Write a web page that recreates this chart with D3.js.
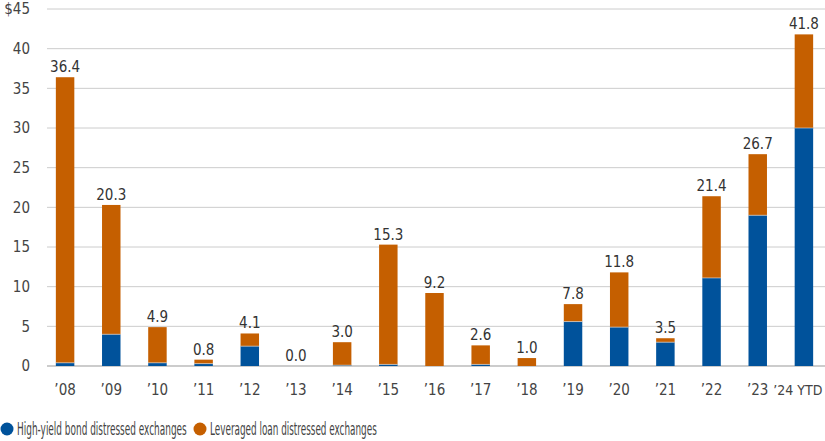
<!DOCTYPE html>
<html>
<head>
<meta charset="utf-8">
<script src="https://cdn.jsdelivr.net/npm/d3@7"></script>
<style>
  body { margin: 0; background: #fff; }
  svg { display: block; font-family: "DejaVu Sans", sans-serif; font-stretch: condensed; }
</style>
</head>
<body>
<svg id="chart" width="825" height="441"></svg>
<script>
// values in $bn
const years = ["\u201908", "\u201909", "\u201910", "\u201911", "\u201912", "\u201913", "\u201914", "\u201915",
    "\u201916", "\u201917", "\u201918", "\u201919", "\u201920", "\u201921", "\u201922", "\u201923", "\u201924 YTD"];
const bondValues = [0.4, 4.0, 0.4, 0.3, 2.5, 0, 0.1, 0.2, 0, 0.2, 0, 5.6, 4.9, 3.0, 11.1, 19.0, 30.0];
const totals = [36.4, 20.3, 4.9, 0.8, 4.1, 0.0, 3.0, 15.3, 9.2, 2.6, 1.0, 7.8, 11.8, 3.5, 21.4, 26.7, 41.8];
const yTicks = [0, 5, 10, 15, 20, 25, 30, 35, 40, 45];
const seriesNames = ["High-yield bond distressed exchanges", "Leveraged loan distressed exchanges"];

const colors = ["#00529b", "#c55f00"];

const svg = d3.select("#chart");

const x = d3.scaleBand()
    .domain(years)
    .range([42, 827])
    .paddingInner(0.6)
    .paddingOuter(0.3);

const y = d3.scaleLinear().domain([0, 45]).range([366, 9]);

// gridlines
svg.append("g")
    .selectAll("line")
    .data(yTicks)
    .join("line")
    .attr("x1", 47)
    .attr("x2", 825)
    .attr("y1", (d) => y(d))
    .attr("y2", (d) => y(d))
    .attr("stroke", (d) => (d === 0 ? "#999" : "#ccc"))
    .attr("stroke-width", 1);

svg.append("g")
    .selectAll("text")
    .data(yTicks)
    .join("text")
    .attr("x", 30)
    .attr("y", (d) => y(d))
    .attr("dy", "0.35em")
    .attr("text-anchor", "end")
    .attr("font-size", 15)
    .attr("fill", "#444")
    .text((d) => (d === 45 ? "$45" : d));

// stacked bars
const rows = years.map((yr, i) => ({ year: yr, bond: bondValues[i], loan: Math.max(0, totals[i] - bondValues[i]) }));
const stack = d3.stack().keys(["bond", "loan"])(rows);

svg.append("g")
    .selectAll("g")
    .data(stack)
    .join("g")
    .attr("fill", (d, i) => colors[i])
    .selectAll("rect")
    .data((d) => d)
    .join("rect")
    .attr("x", (d) => x(d.data.year))
    .attr("width", x.bandwidth())
    .attr("y", (d) => y(d[1]))
    .attr("height", (d) => y(d[0]) - y(d[1]));

// thin separator between segments
svg.append("g")
    .selectAll("line")
    .data(rows.filter((d) => d.bond > 0 && d.loan > 0))
    .join("line")
    .attr("x1", (d) => x(d.year))
    .attr("x2", (d) => x(d.year) + x.bandwidth())
    .attr("y1", (d) => y(d.bond))
    .attr("y2", (d) => y(d.bond))
    .attr("stroke", "#ddd")
    .attr("stroke-width", 0.6);

// totals
svg.append("g")
    .selectAll("text")
    .data(years)
    .join("text")
    .attr("x", (d) => x(d) + x.bandwidth() / 2)
    .attr("y", (d, i) => y(totals[i]) - 5)
    .attr("text-anchor", "middle")
    .attr("font-size", 15)
    .attr("fill", "#333")
    .text((d, i) => totals[i].toFixed(1));

// x labels, the last one a bit smaller and nudged left so it fits
const last = years.length - 1;
svg.append("g")
    .selectAll("text")
    .data(years)
    .join("text")
    .attr("x", (d, i) => x(d) + x.bandwidth() / 2 - (i === last ? 6 : 0))
    .attr("y", 390)
    .attr("dy", "0.35em")
    .attr("text-anchor", "middle")
    .attr("font-size", (d, i) => (i === last ? 14 : 15))
    .attr("fill", "#444")
    .text((d) => d);

// legend
const legendX = [7, 200];
const legendW = [170, 167];
const legend = svg.append("g")
    .selectAll("g")
    .data(seriesNames)
    .join("g")
    .attr("transform", (d, i) => `translate(${legendX[i]}, 429)`);

legend.append("circle").attr("r", 6.5).attr("fill", (d, i) => colors[i]);
legend.append("text")
    .attr("dy", "0.35em")
    .attr("font-size", 17)
    .attr("fill", "#444")
    .text((d) => d)
    .each(function (d, i) {
        const k = legendW[i] / this.getComputedTextLength();
        d3.select(this).attr("transform", `translate(10,0) scale(${k},1)`);
    });
</script>
</body>
</html>
